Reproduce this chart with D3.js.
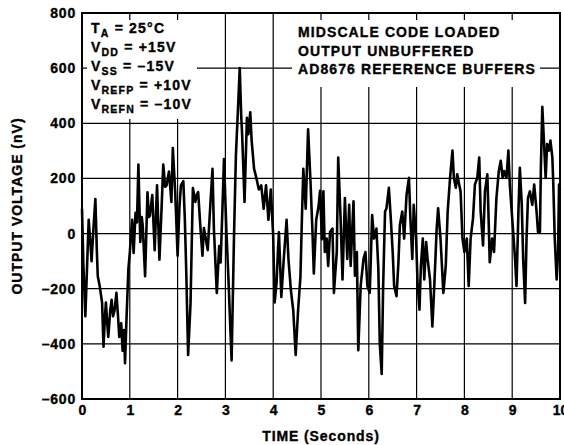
<!DOCTYPE html>
<html>
<head>
<meta charset="utf-8">
<script src="https://cdn.jsdelivr.net/npm/d3@7"></script>
<style>
  body { margin: 0; background: #fff; }
  text { font-family: "Liberation Sans", Arial, sans-serif; font-weight: bold; fill: #000; stroke: #000; stroke-width: 0.35; }
</style>
</head>
<body>
<script>
// time axis (seconds) and output noise (nV)
const timeS = [
  0.00,0.03,0.07,0.10,0.14,0.17,0.20,0.24,0.28,0.31,0.33,0.37,0.42,0.45,0.48,0.50,0.53,0.55,0.59,0.62,
  0.65,0.68,0.72,0.75,0.78,0.82,0.85,0.88,0.90,0.93,0.97,1.00,1.03,1.05,1.08,1.12,1.15,1.18,1.22,1.25,
  1.27,1.32,1.37,1.40,1.42,1.47,1.52,1.55,1.57,1.62,1.67,1.70,1.74,1.77,1.82,1.87,1.90,1.95,2.00,2.04,
  2.07,2.12,2.15,2.18,2.22,2.27,2.32,2.37,2.40,2.43,2.48,2.52,2.55,2.58,2.63,2.68,2.73,2.76,2.82,2.87,
  2.90,2.94,2.97,3.02,3.07,3.10,3.13,3.18,3.22,3.27,3.30,3.33,3.35,3.40,3.45,3.48,3.52,3.55,3.60,3.65,
  3.70,3.75,3.80,3.85,3.90,3.95,4.00,4.03,4.07,4.10,4.12,4.17,4.22,4.28,4.32,4.37,4.42,4.47,4.52,4.57,
  4.60,4.63,4.68,4.73,4.78,4.82,4.85,4.90,4.95,4.98,5.02,5.05,5.08,5.12,5.15,5.19,5.24,5.27,5.33,5.36,
  5.41,5.45,5.50,5.55,5.59,5.62,5.68,5.71,5.75,5.78,5.83,5.89,5.93,5.97,6.02,6.07,6.11,6.16,6.20,6.23,
  6.27,6.30,6.34,6.37,6.42,6.46,6.50,6.53,6.58,6.62,6.65,6.70,6.74,6.79,6.84,6.87,6.91,6.94,6.99,7.02,
  7.06,7.09,7.13,7.16,7.20,7.23,7.28,7.33,7.37,7.42,7.45,7.50,7.56,7.61,7.65,7.70,7.75,7.78,7.82,7.85,
  7.89,7.92,7.96,8.00,8.05,8.09,8.13,8.18,8.22,8.27,8.31,8.34,8.39,8.43,8.48,8.51,8.53,8.58,8.62,8.67,
  8.72,8.76,8.80,8.83,8.88,8.92,8.95,9.01,9.06,9.09,9.13,9.16,9.20,9.23,9.27,9.30,9.33,9.37,9.42,9.46,
  9.51,9.54,9.58,9.60,9.63,9.67,9.70,9.73,9.77,9.80,9.84,9.86,9.89,9.93,9.96,9.98,10.0
];
const noiseNV = [
  90,-120,-300,-150,50,-20,-100,20,125,-60,-155,-190,-250,-410,-300,-250,-330,-375,-280,-240,
  -300,-280,-215,-290,-375,-325,-425,-350,-470,-315,-130,-70,10,50,-70,75,40,250,-30,60,
  30,-155,150,60,65,140,-60,80,175,-95,115,250,170,175,225,115,310,150,-80,100,
  175,190,60,-130,-440,-255,165,115,140,150,15,-80,20,-10,-60,90,235,15,-215,-45,
  -105,100,270,15,-190,-330,-460,-10,285,480,600,430,360,115,420,360,440,335,235,200,
  160,175,90,175,50,160,-10,-250,-180,-60,5,-230,-95,50,-95,-205,-280,-440,-280,-155,
  50,235,90,378,190,15,-145,50,100,155,-20,153,-67,-18,-117,6,18,-215,-67,276,
  55,-166,129,-92,104,-117,117,-153,-67,-423,-190,-92,-67,-190,-215,67,-18,18,-129,-399,
  -509,-190,80,92,166,55,-67,-190,-227,-104,31,80,-18,141,202,55,-92,104,-18,-178,
  -276,-117,-18,-166,-31,-92,-166,-337,-190,18,92,-18,-215,-117,80,202,301,202,166,215,
  178,153,-18,-67,-18,-190,-18,55,178,202,276,80,-43,153,215,31,-104,-18,-67,129,
  227,264,202,227,202,301,178,31,-92,-190,80,239,104,-92,-252,-18,129,153,104,178,
  80,6,6,239,460,313,202,325,301,337,276,178,-18,-166,-67,178,160
];
const xTicks = d3.range(0, 11, 1);
const yTicks = d3.range(-600, 801, 200);
const notesLeft = [
  ["T", "A", " = 25°C"],
  ["V", "DD", " = +15V"],
  ["V", "SS", " = –15V"],
  ["V", "REFP", " = +10V"],
  ["V", "REFN", " = –10V"]
];
const notesRight = ["MIDSCALE CODE LOADED", "OUTPUT UNBUFFERED", "AD8676 REFERENCE BUFFERS"];

const w = 564;
const h = 445;
const pLeft = 82, pRight = 560, pTop = 13, pBottom = 399;

const svg = d3.select("body")
  .append("svg")
  .attr("width", w)
  .attr("height", h);

const x = d3.scaleLinear().domain([0, 10]).range([pLeft, pRight]);
const y = d3.scaleLinear().domain([-600, 800]).range([pBottom, pTop]);

// grid
svg.append("g")
  .selectAll("line")
  .data(xTicks)
  .enter()
  .append("line")
  .attr("x1", d => x(d)).attr("x2", d => x(d))
  .attr("y1", pTop).attr("y2", pBottom)
  .attr("stroke", "#000")
  .attr("stroke-width", 1.2);
svg.append("g")
  .selectAll("line")
  .data(yTicks)
  .enter()
  .append("line")
  .attr("x1", pLeft).attr("x2", pRight)
  .attr("y1", d => y(d)).attr("y2", d => y(d))
  .attr("stroke", "#000")
  .attr("stroke-width", 1.2);

// white boxes behind the notes
svg.append("rect")
  .attr("x", 87).attr("y", 20).attr("width", 110).attr("height", 99)
  .attr("fill", "#fff");
svg.append("rect")
  .attr("x", 292).attr("y", 20).attr("width", 248).attr("height", 67)
  .attr("fill", "#fff");

// trace
const pts = timeS.map((t, i) => [t, noiseNV[i]]);
svg.append("path")
  .datum(pts)
  .attr("fill", "none")
  .attr("stroke", "#000")
  .attr("stroke-width", 2.6)
  .attr("stroke-linejoin", "round")
  .attr("d", d3.line().x(d => x(d[0])).y(d => y(d[1])));

// frame
svg.append("rect")
  .attr("x", pLeft).attr("y", pTop)
  .attr("width", pRight - pLeft).attr("height", pBottom - pTop)
  .attr("fill", "none")
  .attr("stroke", "#000")
  .attr("stroke-width", 2);

// axes labels
const yAxis = d3.axisLeft(y)
  .tickValues(yTicks)
  .tickSize(0)
  .tickPadding(6)
  .tickFormat(d => d < 0 ? "–" + Math.abs(d) : d);
svg.append("g")
  .attr("transform", "translate(" + pLeft + ",0)")
  .call(yAxis)
  .call(g => g.select(".domain").remove())
  .selectAll("text")
  .attr("font-size", 14)
  .attr("letter-spacing", 0.8)
  .attr("font-family", "Liberation Sans, Arial, sans-serif");

const xAxis = d3.axisBottom(x)
  .tickValues(xTicks)
  .tickSize(0)
  .tickPadding(6);
svg.append("g")
  .attr("transform", "translate(0," + pBottom + ")")
  .call(xAxis)
  .call(g => g.select(".domain").remove())
  .selectAll("text")
  .attr("font-size", 14)
  .attr("font-family", "Liberation Sans, Arial, sans-serif");

svg.append("text")
  .attr("x", (pLeft + pRight) / 2)
  .attr("y", 441)
  .attr("text-anchor", "middle")
  .attr("font-size", 14)
  .attr("letter-spacing", 0.9)
  .text("TIME (Seconds)");
svg.append("text")
  .attr("transform", "translate(22," + (pTop + pBottom) / 2 + ") rotate(-90)")
  .attr("text-anchor", "middle")
  .attr("font-size", 14)
  .attr("letter-spacing", 1)
  .text("OUTPUT VOLTAGE (nV)");

// notes
const noteL = svg.append("g").selectAll("text")
  .data(notesLeft)
  .enter()
  .append("text")
  .attr("x", 91)
  .attr("y", (d, i) => 33 + i * 19)
  .attr("font-size", 14)
  .attr("letter-spacing", 1.2);
noteL.append("tspan").text(d => d[0]);
noteL.append("tspan").attr("font-size", 10.5).attr("dy", 4).text(d => d[1]);
noteL.append("tspan").attr("dy", -4).text(d => d[2]);

svg.append("g").selectAll("text")
  .data(notesRight)
  .enter()
  .append("text")
  .attr("x", 298)
  .attr("y", (d, i) => 37 + i * 18.5)
  .attr("font-size", 14)
  .attr("letter-spacing", 1.1)
  .text(d => d);
</script>
</body>
</html>
